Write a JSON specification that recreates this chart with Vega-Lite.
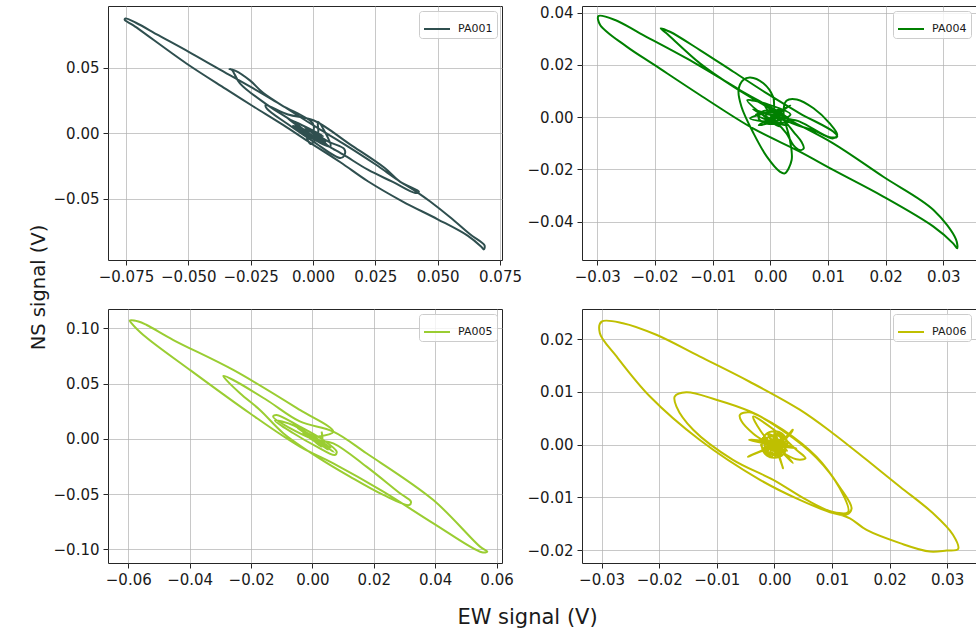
{
  "$schema": "https://vega.github.io/schema/vega-lite/v6.json",
  "autosize": {"type": "pad"},
  "padding": {"left": 27, "top": 5, "right": 0, "bottom": 0},
  "background": "white",
  "columns": 2,
  "spacing": {"row": 49, "column": 80},
  "bounds": "flush",
  "resolve": {"scale": {"color": "independent"}},
  "datasets": {
    "pm": [
      {"s":"PA001","i":0,"x":0.0,"y":0.0},{"s":"PA001","i":1,"x":0.0,"y":0.0075},{"s":"PA001","i":2,"x":-0.0125,"y":0.0215},{"s":"PA001","i":3,"x":-0.025,"y":0.0355},{"s":"PA001","i":4,"x":-0.038,"y":0.0495},{"s":"PA001","i":5,"x":-0.05,"y":0.0625},{"s":"PA001","i":6,"x":-0.062,"y":0.075},{"s":"PA001","i":7,"x":-0.071,"y":0.0845},{"s":"PA001","i":8,"x":-0.0752,"y":0.0878},{"s":"PA001","i":9,"x":-0.0755,"y":0.0868},{"s":"PA001","i":10,"x":-0.072,"y":0.0825},{"s":"PA001","i":11,"x":-0.0509,"y":0.0536},{"s":"PA001","i":12,"x":-0.035,"y":0.034},{"s":"PA001","i":13,"x":-0.0239,"y":0.0206},{"s":"PA001","i":14,"x":-0.012,"y":0.0065},{"s":"PA001","i":15,"x":-0.0009,"y":-0.0074},{"s":"PA001","i":16,"x":0.011,"y":-0.022},{"s":"PA001","i":17,"x":0.022,"y":-0.0365},{"s":"PA001","i":18,"x":0.036,"y":-0.052},{"s":"PA001","i":19,"x":0.05,"y":-0.0655},{"s":"PA001","i":20,"x":0.062,"y":-0.078},{"s":"PA001","i":21,"x":0.0675,"y":-0.0865},{"s":"PA001","i":22,"x":0.0685,"y":-0.0885},{"s":"PA001","i":23,"x":0.0688,"y":-0.0855},{"s":"PA001","i":24,"x":0.063,"y":-0.077},{"s":"PA001","i":25,"x":0.055,"y":-0.064},{"s":"PA001","i":26,"x":0.047,"y":-0.052},{"s":"PA001","i":27,"x":0.043,"y":-0.0465},{"s":"PA001","i":28,"x":0.034,"y":-0.0355},{"s":"PA001","i":29,"x":0.025,"y":-0.0235},{"s":"PA001","i":30,"x":0.012,"y":-0.0075},{"s":"PA001","i":31,"x":0.002,"y":0.004},{"s":"PA001","i":32,"x":-0.01,"y":0.0185},{"s":"PA001","i":33,"x":-0.02,"y":0.031},{"s":"PA001","i":34,"x":-0.0253,"y":0.0405},{"s":"PA001","i":35,"x":-0.031,"y":0.0478},{"s":"PA001","i":36,"x":-0.0335,"y":0.0492},{"s":"PA001","i":37,"x":-0.0325,"y":0.0485},{"s":"PA001","i":38,"x":-0.0293,"y":0.0383},{"s":"PA001","i":39,"x":-0.0185,"y":0.022},{"s":"PA001","i":40,"x":-0.008,"y":0.009},{"s":"PA001","i":41,"x":0.0018,"y":-0.0048},{"s":"PA001","i":42,"x":0.012,"y":-0.016},{"s":"PA001","i":43,"x":0.022,"y":-0.0277},{"s":"PA001","i":44,"x":0.032,"y":-0.037},{"s":"PA001","i":45,"x":0.041,"y":-0.0454},{"s":"PA001","i":46,"x":0.0425,"y":-0.0445},{"s":"PA001","i":47,"x":0.035,"y":-0.037},{"s":"PA001","i":48,"x":0.0288,"y":-0.0264},{"s":"PA001","i":49,"x":0.015,"y":-0.0085},{"s":"PA001","i":50,"x":0.0004,"y":0.0099},{"s":"PA001","i":51,"x":-0.01,"y":0.0145},{"s":"PA001","i":52,"x":-0.019,"y":0.0215},{"s":"PA001","i":53,"x":-0.0185,"y":0.019},{"s":"PA001","i":54,"x":-0.01,"y":0.007},{"s":"PA001","i":55,"x":0.0,"y":-0.006},{"s":"PA001","i":56,"x":0.011,"y":-0.0188},{"s":"PA001","i":57,"x":0.0125,"y":-0.017},{"s":"PA001","i":58,"x":0.0126,"y":-0.012},{"s":"PA001","i":59,"x":0.006,"y":-0.006},{"s":"PA001","i":60,"x":-0.004,"y":0.006},{"s":"PA001","i":61,"x":0.006,"y":-0.009},{"s":"PA001","i":62,"x":-0.006,"y":0.004},{"s":"PA001","i":63,"x":0.009,"y":-0.013},{"s":"PA001","i":64,"x":-0.01,"y":0.011},{"s":"PA001","i":65,"x":0.004,"y":-0.002},{"s":"PA001","i":66,"x":-0.008,"y":0.006},{"s":"PA001","i":67,"x":0.007,"y":-0.01},{"s":"PA001","i":68,"x":0.002,"y":0.009},{"s":"PA001","i":69,"x":0.002,"y":-0.001},{"s":"PA001","i":70,"x":-0.001,"y":-0.008},{"s":"PA001","i":71,"x":-0.003,"y":0.003},{"s":"PA001","i":72,"x":0.005,"y":-0.006},{"s":"PA001","i":73,"x":0.0,"y":0.0},

      {"s":"PA004","i":0,"x":0.0,"y":0.0},{"s":"PA004","i":1,"x":0.0034,"y":-0.0011},{"s":"PA004","i":2,"x":-0.0055,"y":0.0107},{"s":"PA004","i":3,"x":-0.0145,"y":0.0225},{"s":"PA004","i":4,"x":-0.0226,"y":0.0321},{"s":"PA004","i":5,"x":-0.0269,"y":0.0372},{"s":"PA004","i":6,"x":-0.0298,"y":0.0387},{"s":"PA004","i":7,"x":-0.0295,"y":0.0353},{"s":"PA004","i":8,"x":-0.0249,"y":0.027},{"s":"PA004","i":9,"x":-0.0201,"y":0.02},{"s":"PA004","i":10,"x":-0.0122,"y":0.0085},{"s":"PA004","i":11,"x":-0.003,"y":-0.0043},{"s":"PA004","i":12,"x":0.0051,"y":-0.0132},{"s":"PA004","i":13,"x":0.0109,"y":-0.0202},{"s":"PA004","i":14,"x":0.0196,"y":-0.0304},{"s":"PA004","i":15,"x":0.0283,"y":-0.0419},{"s":"PA004","i":16,"x":0.0317,"y":-0.0483},{"s":"PA004","i":17,"x":0.0324,"y":-0.0502},{"s":"PA004","i":18,"x":0.0322,"y":-0.0468},{"s":"PA004","i":19,"x":0.0283,"y":-0.0355},{"s":"PA004","i":20,"x":0.0196,"y":-0.0228},{"s":"PA004","i":21,"x":0.0109,"y":-0.01},{"s":"PA004","i":22,"x":0.0034,"y":-0.0011},{"s":"PA004","i":23,"x":-0.0006,"y":0.004},{"s":"PA004","i":24,"x":-0.0064,"y":0.0117},{"s":"PA004","i":25,"x":-0.0122,"y":0.0206},{"s":"PA004","i":26,"x":-0.018,"y":0.0321},{"s":"PA004","i":27,"x":-0.019,"y":0.034},{"s":"PA004","i":28,"x":-0.0174,"y":0.0327},{"s":"PA004","i":29,"x":-0.0122,"y":0.0257},{"s":"PA004","i":30,"x":-0.0064,"y":0.0174},{"s":"PA004","i":31,"x":-0.0006,"y":0.0091},{"s":"PA004","i":32,"x":0.0051,"y":0.0015},{"s":"PA004","i":33,"x":0.0109,"y":-0.0055},{"s":"PA004","i":34,"x":0.0116,"y":-0.0074},{"s":"PA004","i":35,"x":0.0103,"y":-0.0077},{"s":"PA004","i":36,"x":0.0051,"y":-0.0017},{"s":"PA004","i":37,"x":0.001,"y":0.001},{"s":"PA004","i":38,"x":0.0005,"y":0.0078},{"s":"PA004","i":39,"x":-0.0012,"y":0.013},{"s":"PA004","i":40,"x":-0.0035,"y":0.0152},{"s":"PA004","i":41,"x":-0.0047,"y":0.0142},{"s":"PA004","i":42,"x":-0.0055,"y":0.0104},{"s":"PA004","i":43,"x":-0.005,"y":0.004},{"s":"PA004","i":44,"x":-0.0029,"y":-0.0062},{"s":"PA004","i":45,"x":-0.0006,"y":-0.0151},{"s":"PA004","i":46,"x":0.0017,"y":-0.0209},{"s":"PA004","i":47,"x":0.0025,"y":-0.0215},{"s":"PA004","i":48,"x":0.0037,"y":-0.0164},{"s":"PA004","i":49,"x":0.0034,"y":-0.0087},{"s":"PA004","i":50,"x":0.0023,"y":0.0015},{"s":"PA004","i":51,"x":0.0028,"y":0.0063},{"s":"PA004","i":52,"x":0.0046,"y":0.0068},{"s":"PA004","i":53,"x":0.0075,"y":0.0034},{"s":"PA004","i":54,"x":0.0103,"y":-0.0024},{"s":"PA004","i":55,"x":0.0116,"y":-0.0068},{"s":"PA004","i":56,"x":0.0109,"y":-0.0081},{"s":"PA004","i":57,"x":0.008,"y":-0.0055},{"s":"PA004","i":58,"x":0.0046,"y":-0.003},{"s":"PA004","i":59,"x":0.0028,"y":-0.0017},{"s":"PA004","i":60,"x":0.004,"y":-0.0055},{"s":"PA004","i":61,"x":0.0054,"y":-0.0094},{"s":"PA004","i":62,"x":0.0058,"y":-0.0119},{"s":"PA004","i":63,"x":0.0051,"y":-0.0126},{"s":"PA004","i":64,"x":0.004,"y":-0.0107},{"s":"PA004","i":65,"x":0.0028,"y":-0.0062},{"s":"PA004","i":66,"x":0.001,"y":-0.002},{"s":"PA004","i":67,"x":-0.003,"y":0.003},{"s":"PA004","i":68,"x":0.003,"y":-0.002},{"s":"PA004","i":69,"x":-0.0035,"y":-0.0005},{"s":"PA004","i":70,"x":0.0025,"y":0.003},{"s":"PA004","i":71,"x":-0.002,"y":-0.003},{"s":"PA004","i":72,"x":0.0035,"y":0.001},{"s":"PA004","i":73,"x":-0.004,"y":0.0065},{"s":"PA004","i":74,"x":0.0015,"y":-0.0035},{"s":"PA004","i":75,"x":-0.001,"y":0.0045},{"s":"PA004","i":76,"x":0.003,"y":-0.003},{"s":"PA004","i":77,"x":-0.0025,"y":0.001},{"s":"PA004","i":78,"x":0.002,"y":0.0015},{"s":"PA004","i":79,"x":-0.001,"y":-0.002},{"s":"PA004","i":80,"x":0.0035,"y":0.0045},{"s":"PA004","i":81,"x":0.0,"y":0.0},{"s":"PA004","i":82,"x":0.002,"y":0.001},{"s":"PA004","i":83,"x":0.001,"y":0.0025},{"s":"PA004","i":84,"x":-0.0015,"y":0.002},{"s":"PA004","i":85,"x":-0.002,"y":-0.0005},{"s":"PA004","i":86,"x":-0.0005,"y":-0.0025},{"s":"PA004","i":87,"x":0.0018,"y":-0.0018},{"s":"PA004","i":88,"x":0.0012,"y":0.0005},{"s":"PA004","i":89,"x":-0.0008,"y":0.0008},{"s":"PA004","i":90,"x":0.0,"y":-0.001},

      {"s":"PA005","i":0,"x":0.002,"y":0.002},{"s":"PA005","i":1,"x":0.0068,"y":0.0065},{"s":"PA005","i":2,"x":-0.0041,"y":0.0261},{"s":"PA005","i":3,"x":-0.0258,"y":0.0623},{"s":"PA005","i":4,"x":-0.0453,"y":0.0894},{"s":"PA005","i":5,"x":-0.054,"y":0.103},{"s":"PA005","i":6,"x":-0.0567,"y":0.1062},{"s":"PA005","i":7,"x":-0.0595,"y":0.1071},{"s":"PA005","i":8,"x":-0.0589,"y":0.1045},{"s":"PA005","i":9,"x":-0.0551,"y":0.094},{"s":"PA005","i":10,"x":-0.0399,"y":0.0623},{"s":"PA005","i":11,"x":-0.0204,"y":0.0231},{"s":"PA005","i":12,"x":-0.0041,"y":-0.0071},{"s":"PA005","i":13,"x":0.0068,"y":-0.0222},{"s":"PA005","i":14,"x":0.0231,"y":-0.0478},{"s":"PA005","i":15,"x":0.0394,"y":-0.0765},{"s":"PA005","i":16,"x":0.0552,"y":-0.1027},{"s":"PA005","i":17,"x":0.057,"y":-0.1021},{"s":"PA005","i":18,"x":0.0546,"y":-0.0976},{"s":"PA005","i":19,"x":0.0394,"y":-0.0554},{"s":"PA005","i":20,"x":0.0176,"y":-0.0131},{"s":"PA005","i":21,"x":0.0068,"y":0.0065},{"s":"PA005","i":22,"x":-0.0041,"y":0.0157},{"s":"PA005","i":23,"x":-0.0149,"y":0.0351},{"s":"PA005","i":24,"x":-0.0258,"y":0.0532},{"s":"PA005","i":25,"x":-0.029,"y":0.0569},{"s":"PA005","i":26,"x":-0.0288,"y":0.0557},{"s":"PA005","i":27,"x":-0.0236,"y":0.0412},{"s":"PA005","i":28,"x":-0.0171,"y":0.0261},{"s":"PA005","i":29,"x":-0.0095,"y":0.0051},{"s":"PA005","i":30,"x":0.0014,"y":-0.0161},{"s":"PA005","i":31,"x":0.0122,"y":-0.0342},{"s":"PA005","i":32,"x":0.0231,"y":-0.0508},{"s":"PA005","i":33,"x":0.0315,"y":-0.0599},{"s":"PA005","i":34,"x":0.0321,"y":-0.0569},{"s":"PA005","i":35,"x":0.0285,"y":-0.0493},{"s":"PA005","i":36,"x":0.0176,"y":-0.0252},{"s":"PA005","i":37,"x":0.0068,"y":-0.0041},{"s":"PA005","i":38,"x":0.0,"y":0.0},{"s":"PA005","i":39,"x":-0.0128,"y":0.0201},{"s":"PA005","i":40,"x":-0.0117,"y":0.0216},{"s":"PA005","i":41,"x":-0.0041,"y":0.011},{"s":"PA005","i":42,"x":0.0035,"y":-0.0011},{"s":"PA005","i":43,"x":0.0079,"y":-0.0116},{"s":"PA005","i":44,"x":0.0073,"y":-0.0146},{"s":"PA005","i":45,"x":0.0014,"y":-0.0071},{"s":"PA005","i":46,"x":-0.0062,"y":0.005},{"s":"PA005","i":47,"x":-0.0122,"y":0.0164},{"s":"PA005","i":48,"x":-0.006,"y":0.012},{"s":"PA005","i":49,"x":0.004,"y":-0.006},{"s":"PA005","i":50,"x":-0.004,"y":0.008},{"s":"PA005","i":51,"x":0.006,"y":-0.008},{"s":"PA005","i":52,"x":-0.002,"y":0.006},{"s":"PA005","i":53,"x":0.007,"y":-0.012},{"s":"PA005","i":54,"x":-0.005,"y":0.01},{"s":"PA005","i":55,"x":0.003,"y":-0.002},{"s":"PA005","i":56,"x":0.003,"y":0.0065},{"s":"PA005","i":57,"x":0.003,"y":-0.007},{"s":"PA005","i":58,"x":-0.001,"y":0.003},{"s":"PA005","i":59,"x":0.005,"y":-0.01},{"s":"PA005","i":60,"x":0.0,"y":0.004},{"s":"PA005","i":61,"x":0.002,"y":-0.004},{"s":"PA005","i":62,"x":-0.003,"y":0.005},{"s":"PA005","i":63,"x":0.0,"y":0.0},

      {"s":"PA006","i":0,"x":0.0102,"y":-0.013},{"s":"PA006","i":1,"x":0.0131,"y":-0.014},{"s":"PA006","i":2,"x":0.016,"y":-0.0162},{"s":"PA006","i":3,"x":0.0218,"y":-0.0187},{"s":"PA006","i":4,"x":0.027,"y":-0.0203},{"s":"PA006","i":5,"x":0.0299,"y":-0.0201},{"s":"PA006","i":6,"x":0.0319,"y":-0.0198},{"s":"PA006","i":7,"x":0.031,"y":-0.0171},{"s":"PA006","i":8,"x":0.0275,"y":-0.013},{"s":"PA006","i":9,"x":0.0218,"y":-0.008},{"s":"PA006","i":10,"x":0.016,"y":-0.0029},{"s":"PA006","i":11,"x":0.0102,"y":0.0021},{"s":"PA006","i":12,"x":0.0044,"y":0.0066},{"s":"PA006","i":13,"x":-0.0043,"y":0.0119},{"s":"PA006","i":14,"x":-0.013,"y":0.0167},{"s":"PA006","i":15,"x":-0.0205,"y":0.0208},{"s":"PA006","i":16,"x":-0.0263,"y":0.023},{"s":"PA006","i":17,"x":-0.03,"y":0.0233},{"s":"PA006","i":18,"x":-0.0303,"y":0.0211},{"s":"PA006","i":19,"x":-0.0274,"y":0.0167},{"s":"PA006","i":20,"x":-0.0216,"y":0.0091},{"s":"PA006","i":21,"x":-0.013,"y":0.0009},{"s":"PA006","i":22,"x":-0.0025,"y":-0.0067},{"s":"PA006","i":23,"x":0.0044,"y":-0.0105},{"s":"PA006","i":24,"x":0.0102,"y":-0.013},{"s":"PA006","i":25,"x":0.0125,"y":-0.0133},{"s":"PA006","i":26,"x":0.0134,"y":-0.0121},{"s":"PA006","i":27,"x":0.0113,"y":-0.008},{"s":"PA006","i":28,"x":0.0073,"y":-0.0023},{"s":"PA006","i":29,"x":0.0015,"y":0.0028},{"s":"PA006","i":30,"x":-0.0043,"y":0.0063},{"s":"PA006","i":31,"x":-0.0101,"y":0.0085},{"s":"PA006","i":32,"x":-0.0153,"y":0.0099},{"s":"PA006","i":33,"x":-0.0173,"y":0.0091},{"s":"PA006","i":34,"x":-0.017,"y":0.0072},{"s":"PA006","i":35,"x":-0.0141,"y":0.0028},{"s":"PA006","i":36,"x":-0.0072,"y":-0.0029},{"s":"PA006","i":37,"x":-0.0002,"y":-0.0067},{"s":"PA006","i":38,"x":0.0056,"y":-0.0105},{"s":"PA006","i":39,"x":0.0102,"y":-0.0128},{"s":"PA006","i":40,"x":0.0128,"y":-0.0128},{"s":"PA006","i":41,"x":0.0113,"y":-0.0082},{"s":"PA006","i":42,"x":0.0073,"y":-0.0025},{"s":"PA006","i":43,"x":0.0015,"y":0.0026},{"s":"PA006","i":44,"x":-0.0043,"y":0.0061},{"s":"PA006","i":45,"x":-0.006,"y":0.0056},{"s":"PA006","i":46,"x":-0.0057,"y":0.0044},{"s":"PA006","i":47,"x":-0.0037,"y":0.0021},{"s":"PA006","i":48,"x":-0.0002,"y":-0.0004},{"s":"PA006","i":49,"x":0.0038,"y":-0.0028},{"s":"PA006","i":50,"x":0.0054,"y":-0.0026},{"s":"PA006","i":51,"x":0.0038,"y":-0.001},{"s":"PA006","i":52,"x":0.0003,"y":0.0025},{"s":"PA006","i":53,"x":-0.0037,"y":0.0053},{"s":"PA006","i":54,"x":0.0,"y":0.0},{"s":"PA006","i":55,"x":0.0032,"y":0.0028},{"s":"PA006","i":56,"x":0.0015,"y":0.0008},{"s":"PA006","i":57,"x":-0.0044,"y":0.0009},{"s":"PA006","i":58,"x":-0.0008,"y":-0.0002},{"s":"PA006","i":59,"x":-0.0046,"y":-0.0023},{"s":"PA006","i":60,"x":0.0,"y":-0.0008},{"s":"PA006","i":61,"x":0.0015,"y":-0.0045},{"s":"PA006","i":62,"x":0.0005,"y":-0.0008},{"s":"PA006","i":63,"x":0.0032,"y":-0.0035},{"s":"PA006","i":64,"x":0.0008,"y":0.0},{"s":"PA006","i":65,"x":0.0038,"y":-0.0007},{"s":"PA006","i":66,"x":0.0,"y":0.0},{"s":"PA006","i":67,"x":-0.0022,"y":0.0012},{"s":"PA006","i":68,"x":0.0022,"y":-0.0012},{"s":"PA006","i":69,"x":-0.0012,"y":0.0022},{"s":"PA006","i":70,"x":0.0012,"y":-0.0022},{"s":"PA006","i":71,"x":0.0,"y":0.0025},{"s":"PA006","i":72,"x":0.0,"y":-0.0025},{"s":"PA006","i":73,"x":-0.0023,"y":0.0},{"s":"PA006","i":74,"x":0.0023,"y":0.0},{"s":"PA006","i":75,"x":-0.0016,"y":-0.0018},{"s":"PA006","i":76,"x":0.0016,"y":0.0018},{"s":"PA006","i":77,"x":-0.002,"y":0.0008},{"s":"PA006","i":78,"x":0.0018,"y":-0.0015},{"s":"PA006","i":79,"x":0.0008,"y":0.0024},{"s":"PA006","i":80,"x":-0.0008,"y":-0.0024},{"s":"PA006","i":81,"x":0.0021,"y":0.001},{"s":"PA006","i":82,"x":-0.0021,"y":-0.001},{"s":"PA006","i":83,"x":0.001,"y":-0.002},{"s":"PA006","i":84,"x":-0.001,"y":0.002},{"s":"PA006","i":85,"x":0.0022,"y":0.0},{"s":"PA006","i":86,"x":0.0016,"y":0.0018},{"s":"PA006","i":87,"x":0.0,"y":0.0025},{"s":"PA006","i":88,"x":-0.0016,"y":0.0018},{"s":"PA006","i":89,"x":-0.0022,"y":0.0},{"s":"PA006","i":90,"x":-0.0016,"y":-0.0018},{"s":"PA006","i":91,"x":0.0,"y":-0.0025},{"s":"PA006","i":92,"x":0.0016,"y":-0.0018},{"s":"PA006","i":93,"x":0.0017,"y":0.0},{"s":"PA006","i":94,"x":0.0012,"y":0.0013},{"s":"PA006","i":95,"x":0.0,"y":0.0018},{"s":"PA006","i":96,"x":-0.0012,"y":0.0013},{"s":"PA006","i":97,"x":-0.0017,"y":0.0},{"s":"PA006","i":98,"x":-0.0012,"y":-0.0013},{"s":"PA006","i":99,"x":0.0,"y":-0.0018},{"s":"PA006","i":100,"x":0.0012,"y":-0.0013},{"s":"PA006","i":101,"x":0.001,"y":0.0},{"s":"PA006","i":102,"x":0.0007,"y":0.0008},{"s":"PA006","i":103,"x":0.0,"y":0.0011},{"s":"PA006","i":104,"x":-0.0007,"y":0.0008},{"s":"PA006","i":105,"x":-0.001,"y":0.0},{"s":"PA006","i":106,"x":-0.0007,"y":-0.0008},{"s":"PA006","i":107,"x":0.0,"y":-0.0011},{"s":"PA006","i":108,"x":0.0007,"y":-0.0008},{"s":"PA006","i":109,"x":0.0004,"y":0.0},{"s":"PA006","i":110,"x":0.0,"y":0.0004},{"s":"PA006","i":111,"x":-0.0004,"y":0.0},{"s":"PA006","i":112,"x":0.0,"y":-0.0004}
    ]
  },
  "concat": [
    {
      "width": 394, "height": 254,
      "data": {"name": "pm"},
      "transform": [{"filter": "datum.s === 'PA001'"}],
      "mark": {"type": "line", "clip": true, "interpolate": "catmull-rom"},
      "encoding": {
        "x": {"field": "x", "type": "quantitative", "scale": {"domain": [-0.0822, 0.0758], "nice": false, "zero": false},
              "axis": {"values": [-0.075, -0.05, -0.025, 0, 0.025, 0.05, 0.075], "format": ".3f", "title": null}},
        "y": {"field": "y", "type": "quantitative", "scale": {"domain": [-0.0966, 0.0973], "nice": false, "zero": false},
              "axis": {"values": [-0.05, 0, 0.05], "format": ".2f", "title": "NS signal (V)", "titleY": 281, "titleFontSize": 19.5}},
        "order": {"field": "i", "type": "quantitative"},
        "color": {"field": "s", "type": "nominal", "scale": {"range": ["#2f4f4f"]}, "legend": {"title": null}}
      }
    },
    {
      "width": 394, "height": 254,
      "data": {"name": "pm"},
      "transform": [{"filter": "datum.s === 'PA004'"}],
      "mark": {"type": "line", "clip": true, "interpolate": "catmull-rom"},
      "encoding": {
        "x": {"field": "x", "type": "quantitative", "scale": {"domain": [-0.03265, 0.03567], "nice": false, "zero": false},
              "axis": {"values": [-0.03, -0.02, -0.01, 0, 0.01, 0.02, 0.03], "format": ".2f", "title": null}},
        "y": {"field": "y", "type": "quantitative", "scale": {"domain": [-0.05466, 0.04256], "nice": false, "zero": false},
              "axis": {"values": [-0.04, -0.02, 0, 0.02, 0.04], "format": ".2f", "title": null}},
        "order": {"field": "i", "type": "quantitative"},
        "color": {"field": "s", "type": "nominal", "scale": {"range": ["#008000"]}, "legend": {"title": null}}
      }
    },
    {
      "width": 394, "height": 254,
      "data": {"name": "pm"},
      "transform": [{"filter": "datum.s === 'PA005'"}],
      "mark": {"type": "line", "clip": true, "interpolate": "catmull-rom"},
      "encoding": {
        "x": {"field": "x", "type": "quantitative", "scale": {"domain": [-0.06661, 0.06177], "nice": false, "zero": false},
              "axis": {"values": [-0.06, -0.04, -0.02, 0, 0.02, 0.04, 0.06], "format": ".2f", "title": "EW signal (V)", "titleX": 419, "titleY": 60, "titleBaseline": "alphabetic", "titleFontSize": 21}},
        "y": {"field": "y", "type": "quantitative", "scale": {"domain": [-0.1124, 0.11747], "nice": false, "zero": false},
              "axis": {"values": [-0.1, -0.05, 0, 0.05, 0.1], "format": ".2f", "title": null}},
        "order": {"field": "i", "type": "quantitative"},
        "color": {"field": "s", "type": "nominal", "scale": {"range": ["#9acd32"]}, "legend": {"title": null}}
      }
    },
    {
      "width": 394, "height": 254,
      "data": {"name": "pm"},
      "transform": [{"filter": "datum.s === 'PA006'"}],
      "mark": {"type": "line", "clip": true, "interpolate": "catmull-rom"},
      "encoding": {
        "x": {"field": "x", "type": "quantitative", "scale": {"domain": [-0.0334, 0.035], "nice": false, "zero": false},
              "axis": {"values": [-0.03, -0.02, -0.01, 0, 0.01, 0.02, 0.03], "format": ".2f", "title": null}},
        "y": {"field": "y", "type": "quantitative", "scale": {"domain": [-0.02246, 0.02569], "nice": false, "zero": false},
              "axis": {"values": [-0.02, -0.01, 0, 0.01, 0.02], "format": ".2f", "title": null}},
        "order": {"field": "i", "type": "quantitative"},
        "color": {"field": "s", "type": "nominal", "scale": {"range": ["#bfbf00"]}, "legend": {"title": null}}
      }
    }
  ],
  "config": {
    "font": "DejaVu Sans",
    "view": {"stroke": "#262626", "strokeWidth": 1},
    "line": {"strokeWidth": 2},
    "axis": {
      "domain": false, "grid": true, "gridColor": "#b0b0b0", "gridOpacity": 0.7, "gridWidth": 1,
      "tickColor": "#262626", "tickSize": 5, "tickWidth": 1,
      "labelFont": "DejaVu Sans", "labelFontSize": 15, "labelColor": "#1a1a1a", "labelPadding": 4,
      "labelFlush": false, "labelOverlap": false,
      "titleFont": "DejaVu Sans", "titleFontWeight": "normal", "titleColor": "#1a1a1a", "titlePadding": 5
    },
    "legend": {
      "orient": "top-right", "offset": 5, "padding": 4,
      "strokeColor": "#cccccc", "fillColor": "rgba(255,255,255,0.8)", "cornerRadius": 3,
      "symbolType": "stroke", "symbolSize": 676, "symbolStrokeWidth": 2,
      "labelFont": "DejaVu Sans", "labelFontSize": 11, "labelColor": "#1a1a1a", "labelOffset": 7
    }
  }
}
